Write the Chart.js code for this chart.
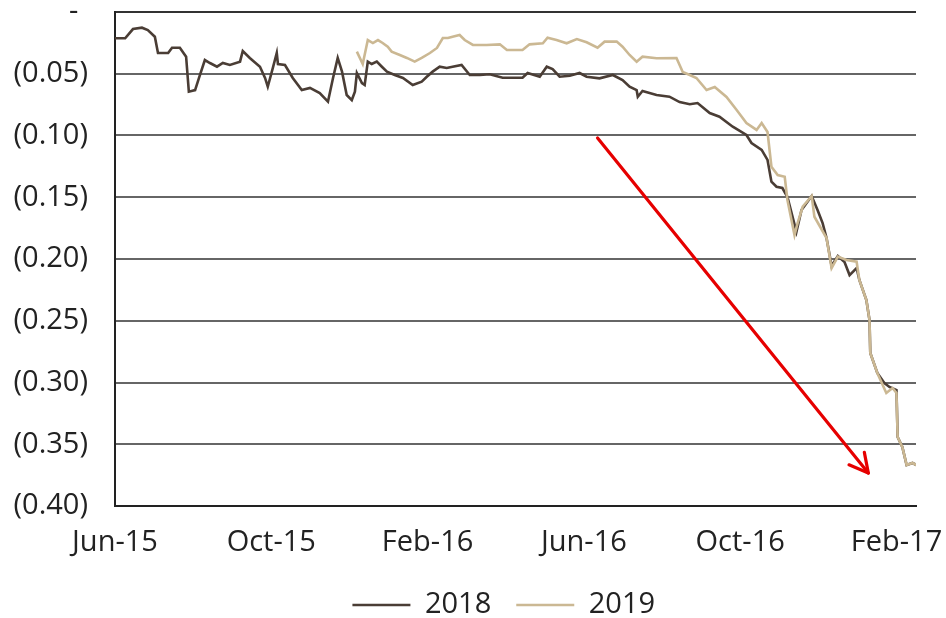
<!DOCTYPE html>
<html>
<head>
<meta charset="utf-8">
<script src="https://cdn.jsdelivr.net/npm/chart.js@4/dist/chart.umd.min.js"></script>
<style>
  html, body { margin: 0; padding: 0; background: #ffffff; }
  #wrap { width: 946px; height: 618px; }
</style>
</head>
<body>
<div id="wrap"><canvas id="c" width="946" height="618"></canvas></div>
<script>
// x values: months since Jun-15
const tickLabels = ['Jun-15', 'Oct-15', 'Feb-16', 'Jun-16', 'Oct-16', 'Feb-17'];
const tickMonths = [0, 4, 8, 12, 16, 20];

const months2018 = [0, 0.26, 0.46, 0.69, 0.84, 1.02, 1.10, 1.36, 1.46, 1.66, 1.82, 1.89, 2.05, 2.15, 2.30, 2.43, 2.61, 2.76, 2.94, 3.20, 3.27, 3.45, 3.71, 3.84, 3.91, 4.04, 4.14, 4.17, 4.35, 4.55, 4.78, 4.99, 5.24, 5.45, 5.58, 5.70, 5.81, 5.93, 6.06, 6.14, 6.19, 6.32, 6.39, 6.47, 6.57, 6.70, 6.83, 6.96, 7.16, 7.37, 7.62, 7.85, 7.98, 8.13, 8.31, 8.49, 8.64, 8.87, 9.08, 9.34, 9.59, 9.92, 10.43, 10.56, 10.87, 11.05, 11.20, 11.38, 11.64, 11.89, 12.07, 12.40, 12.74, 12.99, 13.17, 13.35, 13.38, 13.50, 13.86, 14.19, 14.45, 14.71, 14.91, 15.22, 15.47, 15.81, 16.16, 16.29, 16.55, 16.70, 16.80, 16.93, 17.08, 17.21, 17.44, 17.57, 17.83, 17.98, 18.11, 18.21, 18.34, 18.50, 18.67, 18.80, 18.98, 19.05, 19.23, 19.31, 19.33, 19.51, 19.69, 19.82, 20.00, 20.03, 20.15, 20.26, 20.41, 20.51];
const values2018 = [-0.0213, -0.0213, -0.0138, -0.0127, -0.0146, -0.0200, -0.0332, -0.0332, -0.0289, -0.0289, -0.0362, -0.0645, -0.0632, -0.0534, -0.0389, -0.0413, -0.0443, -0.0413, -0.0429, -0.0402, -0.0316, -0.0372, -0.0443, -0.0534, -0.0605, -0.0453, -0.0332, -0.0421, -0.0429, -0.0534, -0.0632, -0.0615, -0.0656, -0.0726, -0.0534, -0.0372, -0.0483, -0.0672, -0.0713, -0.0645, -0.0494, -0.0575, -0.0591, -0.0402, -0.0421, -0.0402, -0.0443, -0.0483, -0.0510, -0.0534, -0.0591, -0.0564, -0.0524, -0.0483, -0.0443, -0.0453, -0.0443, -0.0429, -0.0510, -0.0510, -0.0504, -0.0532, -0.0532, -0.0494, -0.0524, -0.0443, -0.0462, -0.0524, -0.0516, -0.0494, -0.0524, -0.0537, -0.0510, -0.0551, -0.0605, -0.0632, -0.0686, -0.0640, -0.0672, -0.0686, -0.0729, -0.0747, -0.0737, -0.0818, -0.0848, -0.0929, -0.0996, -0.1061, -0.1117, -0.1198, -0.1374, -0.1415, -0.1425, -0.1498, -0.1780, -0.1603, -0.1490, -0.1603, -0.1709, -0.1830, -0.2057, -0.1976, -0.2024, -0.2130, -0.2073, -0.2170, -0.2332, -0.2494, -0.2761, -0.2923, -0.3004, -0.3036, -0.3061, -0.3441, -0.3522, -0.3668, -0.3652, -0.3668];

const months2019 = [6.19, 6.34, 6.47, 6.60, 6.73, 6.85, 6.98, 7.08, 7.29, 7.47, 7.67, 7.85, 8.06, 8.24, 8.39, 8.52, 8.64, 8.82, 8.95, 9.16, 9.51, 9.85, 10.03, 10.43, 10.61, 10.95, 11.07, 11.30, 11.56, 11.82, 12.07, 12.35, 12.53, 12.84, 12.99, 13.17, 13.35, 13.50, 13.86, 14.37, 14.53, 14.71, 14.88, 15.14, 15.35, 15.65, 15.91, 16.16, 16.42, 16.55, 16.70, 16.80, 16.96, 17.14, 17.21, 17.39, 17.47, 17.60, 17.83, 17.90, 18.21, 18.34, 18.50, 18.72, 18.98, 19.05, 19.23, 19.31, 19.33, 19.51, 19.74, 19.90, 20.00, 20.03, 20.15, 20.26, 20.41, 20.51];
const values2019 = [-0.0321, -0.0421, -0.0227, -0.0251, -0.0227, -0.0251, -0.0281, -0.0321, -0.0348, -0.0372, -0.0402, -0.0372, -0.0332, -0.0291, -0.0211, -0.0211, -0.0200, -0.0186, -0.0227, -0.0267, -0.0267, -0.0262, -0.0308, -0.0308, -0.0262, -0.0253, -0.0208, -0.0227, -0.0253, -0.0219, -0.0245, -0.0289, -0.0240, -0.0240, -0.0281, -0.0348, -0.0402, -0.0362, -0.0375, -0.0372, -0.0486, -0.0510, -0.0534, -0.0632, -0.0607, -0.0688, -0.0794, -0.0899, -0.0955, -0.0899, -0.0972, -0.1253, -0.1320, -0.1334, -0.1522, -0.1806, -0.1709, -0.1577, -0.1490, -0.1658, -0.1830, -0.2073, -0.1981, -0.2008, -0.2022, -0.2170, -0.2332, -0.2494, -0.2761, -0.2923, -0.3085, -0.3045, -0.3085, -0.3441, -0.3522, -0.3668, -0.3652, -0.3668];

// red arrow annotation: [month, value] start and end
const arrowStart = [12.35, -0.102];
const arrowEnd = [19.28, -0.3733];

const seriesNames = ['2018', '2019'];

const toPoints = (xs, ys) => xs.map((x, i) => ({ x: x, y: ys[i] }));

const arrowPlugin = {
  id: 'arrowPlugin',
  afterDatasetsDraw(chart) {
    const xs = chart.scales.x, ys = chart.scales.y;
    const x1 = xs.getPixelForValue(arrowStart[0]), y1 = ys.getPixelForValue(arrowStart[1]);
    const x2 = xs.getPixelForValue(arrowEnd[0]), y2 = ys.getPixelForValue(arrowEnd[1]);
    const ctx = chart.ctx;
    ctx.save();
    ctx.strokeStyle = '#e60000';
    ctx.lineWidth = 3.2;
    ctx.lineCap = 'round';
    ctx.lineJoin = 'round';
    ctx.beginPath();
    ctx.moveTo(x1, y1);
    ctx.lineTo(x2, y2);
    ctx.stroke();
    const ang = Math.atan2(y2 - y1, x2 - x1);
    const len = 21, spread = 28 * Math.PI / 180;
    ctx.beginPath();
    ctx.moveTo(x2 - len * Math.cos(ang - spread), y2 - len * Math.sin(ang - spread));
    ctx.lineTo(x2, y2);
    ctx.lineTo(x2 - len * Math.cos(ang + spread), y2 - len * Math.sin(ang + spread));
    ctx.stroke();
    ctx.restore();
  }
};

// shift the legend row to sit under the plot like the reference
const legendShift = {
  id: 'legendShift',
  afterLayout(chart) {
    const lg = chart.legend;
    if (!lg) return;
    const dx = 53;
    lg.left += dx;
    lg.right += dx;
  }
};

const FONT = { family: '"Open Sans", "DejaVu Sans", sans-serif', size: 29 };

new Chart(document.getElementById('c'), {
  type: 'line',
  data: {
    datasets: [
      {
        label: seriesNames[0],
        data: toPoints(months2018, values2018),
        borderColor: '#4a3d35',
        backgroundColor: '#4a3d35',
        borderWidth: 2.6,
        pointRadius: 0,
        tension: 0,
        order: 1
      },
      {
        label: seriesNames[1],
        data: toPoints(months2019, values2019),
        borderColor: '#cbb893',
        backgroundColor: '#cbb893',
        borderWidth: 2.6,
        pointRadius: 0,
        tension: 0,
        order: 0
      }
    ]
  },
  options: {
    responsive: false,
    animation: false,
    devicePixelRatio: 1,
    layout: { padding: { left: 0, right: 30, top: 12, bottom: -11.5 } },
    plugins: {
      tooltip: { enabled: false },
      legend: {
        position: 'bottom',
        labels: {
          font: FONT,
          color: '#222222',
          usePointStyle: true,
          pointStyle: 'line',
          pointStyleWidth: 58,
          padding: 10.5,
          sort: (a, b) => a.datasetIndex - b.datasetIndex,
          generateLabels: (chart) => Chart.defaults.plugins.legend.labels.generateLabels(chart)
            .map(item => Object.assign(item, { text: item.text + '\u2002' }))
        }
      }
    },
    scales: {
      x: {
        type: 'linear',
        min: 0,
        max: 20.5,
        afterBuildTicks: (scale) => { scale.ticks = tickMonths.map(v => ({ value: v })); },
        ticks: {
          font: FONT,
          color: '#222222',
          padding: 19.6,
          maxRotation: 0,
          autoSkip: false,
          callback: (v, i) => tickLabels[i]
        },
        grid: { display: false, drawTicks: false },
        border: { display: true, color: '#222222', width: 2 },
        afterFit: (scale) => { scale.paddingLeft = 0; scale.paddingRight = 0; }
      },
      y: {
        min: -0.40,
        max: 0,
        ticks: {
          stepSize: 0.05,
          font: FONT,
          color: '#222222',
          padding: 27,
          callback: (v) => Math.abs(v) < 1e-9 ? '-\u2009\u2009' : '(' + Math.abs(v).toFixed(2) + ')'
        },
        grid: {
          drawTicks: false,
          lineWidth: 2,
          color: (ctx) => (ctx.tick && (Math.abs(ctx.tick.value) < 1e-9 || Math.abs(ctx.tick.value + 0.4) < 1e-9)) ? '#333333' : '#666666'
        },
        border: { display: true, color: '#222222', width: 2 },
        afterFit: (scale) => { scale.width = 115; scale.paddingTop = 0; scale.paddingBottom = 0; }
      }
    }
  },
  plugins: [arrowPlugin, legendShift]
});
</script>
</body>
</html>
